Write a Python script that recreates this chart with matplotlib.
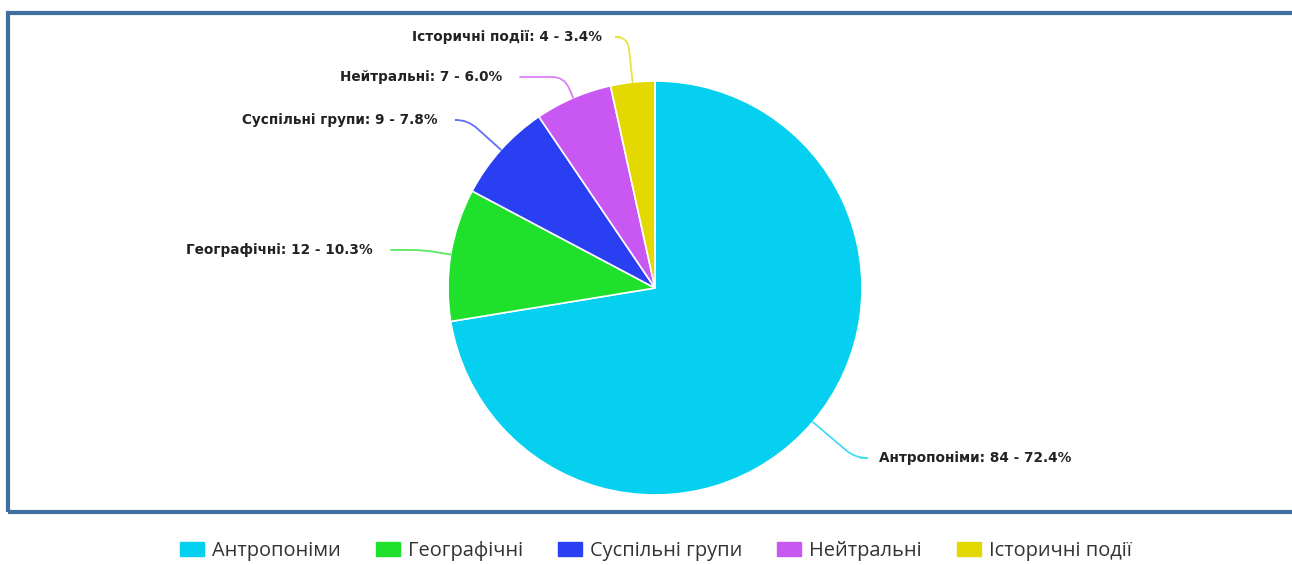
import matplotlib.pyplot as plt
import numpy as np
from matplotlib.patches import Rectangle

# дані
names = ["Антропоніми", "Географічні", "Суспільні групи", "Нейтральні", "Історичні події"]
counts = [84, 12, 9, 7, 4]
colors = ["#05d0f0", "#1fe12b", "#2b3ff2", "#c957f2", "#e3d800"]

# положення підписів (пікселі, y вгору) та вирівнювання
label_pos = [(879, 107), (373, 315), (438, 445), (502, 488), (602, 528)]
label_ha = ["left", "right", "right", "right", "right"]
GAP = 18

W, H = 1292, 565
fig = plt.figure(figsize=(W / 100, H / 100), dpi=100)
ax = fig.add_axes([0, 0, 1, 1])

cx, cy, r = 655, 277, 207

wedges, _ = ax.pie(counts, colors=colors, startangle=90, counterclock=False,
                   center=(cx, cy), radius=r, frame=True,
                   wedgeprops=dict(edgecolor="white", linewidth=1.2))
ax.set_xlim(0, W)
ax.set_ylim(0, H)
ax.axis("off")

total = sum(counts)
for i, w in enumerate(wedges):
    mid = (w.theta1 + w.theta2) / 2
    px = cx + r * np.cos(np.deg2rad(mid))
    py = cy + r * np.sin(np.deg2rad(mid))
    pct = counts[i] / total * 100
    tx, ty = label_pos[i]
    ax.text(tx, ty, f"{names[i]}: {counts[i]} - {pct:.1f}%", ha=label_ha[i],
            va="center", fontsize=9.8, fontweight="bold", family="DejaVu Sans",
            color="#222222")
    sx = tx - GAP if label_ha[i] == "left" else tx + GAP
    # лінія-з'єднувач: горизонтально від підпису, потім радіально до сектора
    ax.annotate("", xy=(px, py), xytext=(sx, ty),
                arrowprops=dict(arrowstyle="-", color=colors[i], lw=1.3, alpha=0.75,
                                shrinkA=0, shrinkB=0,
                                connectionstyle=f"angle,angleA=0,angleB={mid:.1f},rad=12"))

# рамка
ax.add_patch(Rectangle((8, H - 512), W + 20, 512 - 13, fill=False,
                       edgecolor="#3f6f9e", linewidth=3, clip_on=False))

# легенда
handles = [Rectangle((0, 0), 1, 1, color=c) for c in colors]
fig.legend(handles, names, loc="center", bbox_to_anchor=(656 / W, 1 - 551 / H),
           ncol=5, frameon=False, handlelength=1.2, handleheight=0.7,
           columnspacing=1.75, handletextpad=0.4,
           prop={"family": "Open Sans", "size": 14.4}, labelcolor="#333333")

fig.savefig("out.png", dpi=100)
